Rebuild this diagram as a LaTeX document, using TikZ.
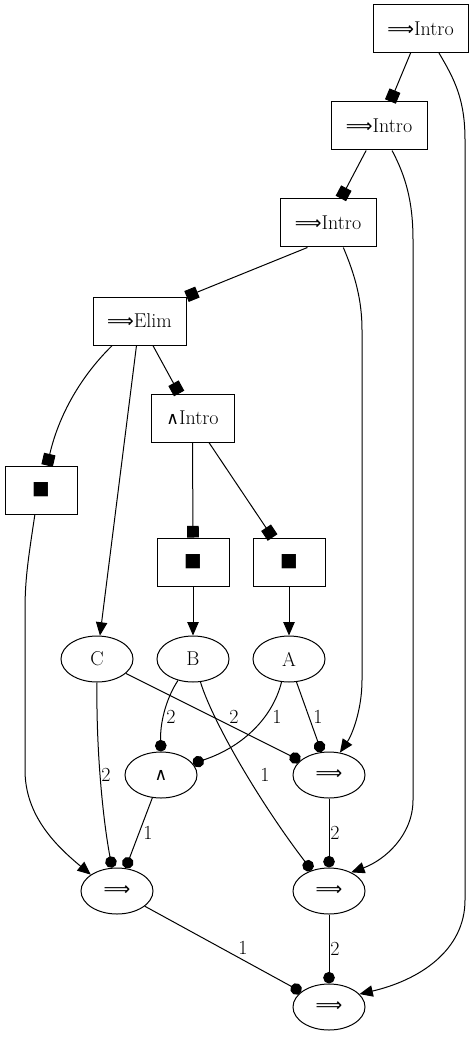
\documentclass[tikz,border=0pt]{standalone}
\usepackage{fontspec}
\usepackage{graphicx}
\usetikzlibrary{arrows.meta,shapes.geometric}
\newfontfamily\symfont{DejaVu Sans}
\newcommand{\myimp}{{\symfont\fontsize{14}{14}\selectfont ⟹}}
\newcommand{\myand}{{\symfont\fontsize{13}{14}\selectfont ∧}}
\newcommand{\mysq}{{\symfont\fontsize{14}{14}\selectfont ■}}
\begin{document}
\begin{tikzpicture}[x=0.75pt,y=-0.75pt, font=\fontsize{15}{18}\selectfont, line width=0.75pt,
  rbox/.style={draw, rectangle, minimum height=36pt, inner sep=0pt},
  ell/.style={draw, ellipse, minimum width=54pt, minimum height=34.5pt, inner sep=0pt},
  tri/.style={-{Triangle[length=10pt,width=8.5pt]}},
  sqr/.style={-{Square[length=8.8pt]}},
  dotp/.style={-{Circle[length=8.7pt]}},
  lbl/.style={inner sep=0pt}]
\useasboundingbox (0,0) rectangle (475,1037);
% boxes
\node[rbox, minimum width=71.25pt] (I1) at (420.5,28.5) {\myimp Intro};
\node[rbox, minimum width=72pt] (I2) at (379,126) {\myimp Intro};
\node[rbox, minimum width=72pt] (I3) at (328,223) {\myimp Intro};
\node[rbox, minimum width=69.75pt] (Elim) at (139.5,321) {\myimp Elim};
\node[rbox, minimum width=62.25pt] (AndI) at (192.5,418) {\myand Intro};
\node[rbox, minimum width=54pt] (Sq1) at (41,490) {\mysq};
\node[rbox, minimum width=54pt] (Sq2) at (193,562) {\mysq};
\node[rbox, minimum width=54pt] (Sq3) at (289,562) {\mysq};
% ellipses
\node[ell] (C) at (97,659) {C};
\node[ell] (B) at (193,659) {B};
\node[ell] (A) at (289,659) {A};
\node[ell] (And) at (161,775) {\myand};
\node[ell] (Imp1) at (329,775) {\myimp};
\node[ell] (Imp2) at (117,891) {\myimp};
\node[ell] (Imp3) at (329,891) {\myimp};
\node[ell] (Imp4) at (329,1007) {\myimp};
% box-tipped edges
\draw[sqr] (I1.-112) -- (I2.65);
\draw[sqr] (I2) -- (I3);
\draw[sqr] (I3.-130) -- (Elim.north east);
\draw[sqr] (Elim.-138) .. controls (85,372) and (60,410) .. (Sq1.76);
\draw[sqr] (Elim) -- (AndI);
\draw[sqr] (AndI) -- (Sq2);
\draw[sqr] (AndI) -- (Sq3);
% long arrows
\draw[tri] (I1.-53) .. controls (455,80) and (465,100) .. (465,140) -- (465,900) .. controls (465,950) and (420,980) .. (Imp4.23);
\draw[tri] (I2.-62) .. controls (405,175) and (413,200) .. (413,240) -- (413,800) .. controls (413,835) and (385,860) .. (Imp3.40);
\draw[tri] (I3.-58) .. controls (355,275) and (362,300) .. (362,330) -- (362,680) .. controls (362,710) and (352,735) .. (Imp1.64);
\draw[tri] (Elim.-97) -- (C);
\draw[tri] (Sq1.-104) .. controls (28,560) and (25,580) .. (25,610) -- (25,770) .. controls (25,815) and (55,845) .. (Imp2.148);
\draw[tri] (Sq2) -- (B);
\draw[tri] (Sq3) -- (A);
% dot edges
\draw[dotp] (C.-90) .. controls (96,750) and (103,820) .. (Imp2.102) node[lbl, at={(106,775)}] {2};
\draw[dotp] (C) -- (Imp1) node[lbl, at={(234,717)}] {2};
\draw[dotp] (B.-125) .. controls (165,700) and (160,725) .. (And.90) node[lbl, at={(171,717)}] {2};
\draw[dotp] (B.-72) .. controls (212,720) and (258,800) .. (Imp3.130) node[lbl, at={(265,775)}] {1};
\draw[dotp] (A.-108) .. controls (272,720) and (240,748) .. (And.20) node[lbl, at={(277,717)}] {1};
\draw[dotp] (A.-72) -- (Imp1.108) node[lbl, at={(318,717)}] {1};
\draw[dotp] (And) -- (Imp2) node[lbl, at={(148,833)}] {1};
\draw[dotp] (Imp1) -- (Imp3) node[lbl, at={(335,833)}] {2};
\draw[dotp] (Imp2) -- (Imp4) node[lbl, at={(243,948)}] {1};
\draw[dotp] (Imp3) -- (Imp4) node[lbl, at={(335,949)}] {2};
\end{tikzpicture}
\end{document}
